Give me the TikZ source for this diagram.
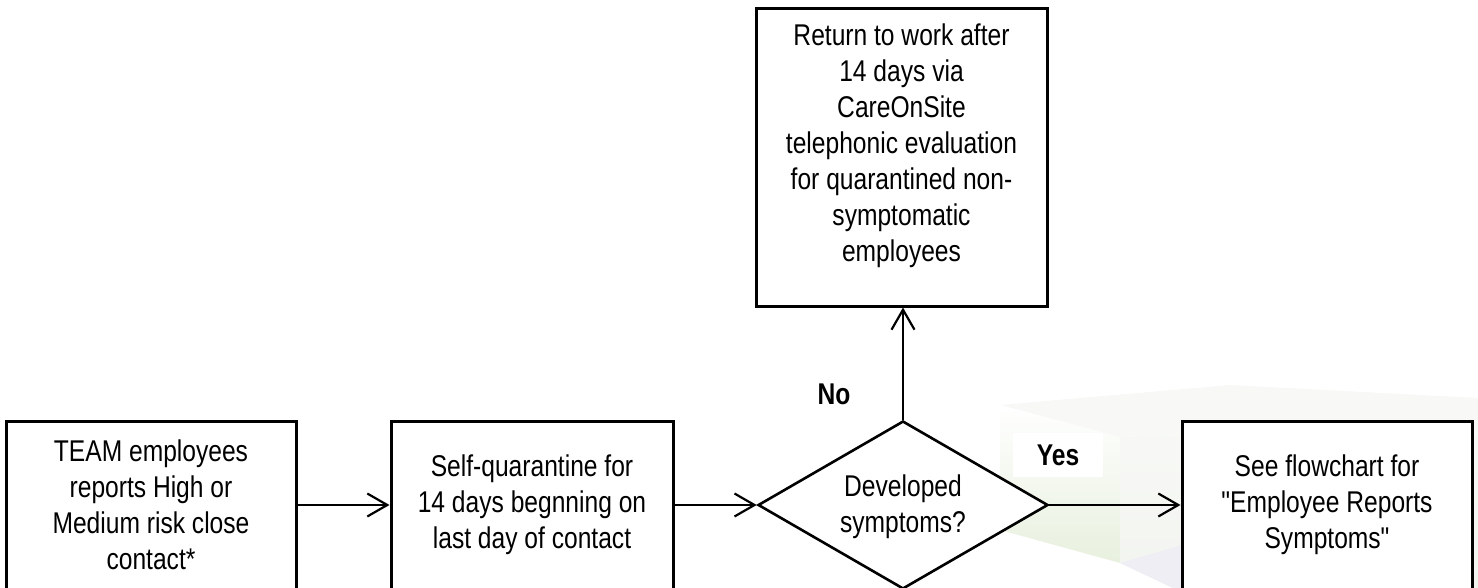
\documentclass[tikz,border=0pt]{standalone}
\usepackage{fontspec}
\setmainfont{Liberation Sans}[FakeStretch=0.82, Ligatures=TeXOff]
\usetikzlibrary{arrows.meta,shapes.geometric}
\definecolor{wmgreen}{RGB}{232,240,222}
\definecolor{wmgray}{RGB}{242,244,240}
\definecolor{wmlav}{RGB}{238,238,244}
\definecolor{wmtop}{RGB}{248,249,246}
\begin{document}
\begin{tikzpicture}[x=1pt,y=-1pt,
  txt/.style={font=\fontsize{30}{36}\selectfont, align=center, text=black},
  box/.style={draw=black, line width=3pt, rectangle, inner sep=0pt, fill=white},
  dec/.style={draw=black, line width=2.6pt, shape=diamond, inner sep=0pt,
    minimum width=290pt, minimum height=168pt, fill=white},
  lbl/.style={font=\fontsize{30}{36}\selectfont\bfseries, text=black},
  conn/.style={draw=black, line width=2.2pt, -{Straight Barb[length=20pt,width=23pt,line width=2.2pt]}}
]
\useasboundingbox (0,0) rectangle (1478,588);
% faint background watermark
\fill[wmtop] (1000,405) -- (1230,385) -- (1478,398) -- (1478,420) -- (1120,437) -- cycle;
\shade[top color=white, bottom color=wmgreen] (1000,405) -- (1120,437) -- (1120,563) -- (1000,530) -- cycle;
\shade[top color=wmtop, bottom color=wmgray] (1120,437) -- (1478,420) -- (1478,588) -- (1173,588) -- (1120,563) -- cycle;
\fill[wmlav] (1120,563) -- (1173,588) -- (1182,588) -- (1182,545) -- cycle;
% nodes
\node[box, minimum width=290pt, minimum height=168pt, txt] (contact) at (151,505)
  {TEAM employees\\reports High or\\Medium risk close\\contact*};
\node[box, minimum width=282pt, minimum height=168pt, txt] (quar) at (532,505)
  {Self-quarantine for\\14 days begnning on\\last day of contact};
\node[dec] (dia) at (903,505) {};
\node[txt] (diatxt) at (903,507) {Developed\\symptoms?};
\node[box, minimum width=291pt, minimum height=297pt] (ret) at (901.5,157.5) {};
\node[txt] (rettxt) at (901.5,146) {Return to work after\\14 days via\\CareOnSite\\telephonic evaluation\\for quarantined non-\\symptomatic\\employees};
\node[box, minimum width=290pt, minimum height=168pt, txt] (see) at (1327,505)
  {See flowchart for\\"Employee Reports\\Symptoms"};
% labels
\node[lbl] (no) at (834,394) {No};
\node[lbl, fill=white, minimum width=90pt, minimum height=44pt] (yes) at (1058,455) {Yes};
% connectors
\draw[conn] (contact.east) -- (quar.west);
\draw[conn] (quar.east) -- (dia.west);
\draw[conn] (dia.north) -- (dia.north |- ret.south);
\draw[conn] (dia.east) -- (see.west);
\end{tikzpicture}
\end{document}
